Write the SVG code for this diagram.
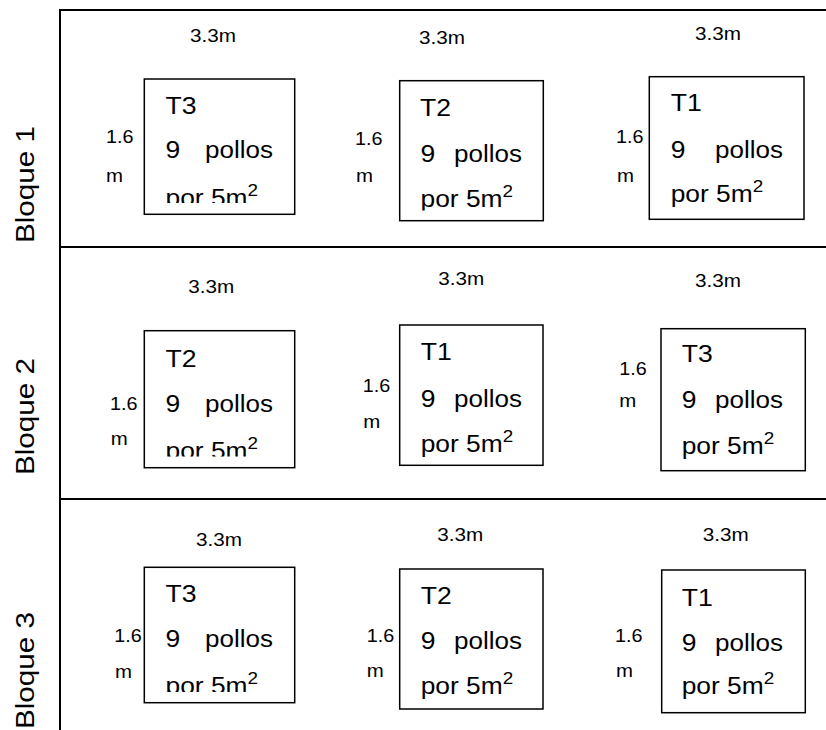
<svg xmlns="http://www.w3.org/2000/svg" width="826" height="730" viewBox="0 0 826 730">
  <style>
    text { font-family: "Liberation Sans", Arial, sans-serif; fill: #000; }
    .frame { stroke: #000; stroke-width: 2; fill: none; }
    .plot { stroke: #000; stroke-width: 1.5; fill: #fff; }
    .dim { font-size: 18px; }
    .lbl { font-size: 23px; }
    .sup { font-size: 16px; }
    .blk { font-size: 26px; }
  </style>
  <defs>
    <clipPath id="clip-b1t3"><rect x="140" y="75" width="160" height="128"/></clipPath>
    <clipPath id="clip-b1t2"><rect x="395" y="75" width="160" height="135.5"/></clipPath>
    <clipPath id="clip-b2t2"><rect x="140" y="325" width="160" height="131.5"/></clipPath>
    <clipPath id="clip-b3t3"><rect x="140" y="560" width="160" height="132"/></clipPath>
  </defs>
  <rect width="826" height="730" fill="#fff"/>

  <!-- field outline and block dividers -->
  <g id="frame">
    <path class="frame" d="M60,730 V10 H826 M60,247 H826 M60,499 H826"/>
  </g>

  <!-- block labels -->
  <g id="block-labels">
    <text class="blk" transform="translate(34,243) rotate(-90)" textLength="117" lengthAdjust="spacingAndGlyphs">Bloque 1</text>
    <text class="blk" transform="translate(34,475) rotate(-90)" textLength="117" lengthAdjust="spacingAndGlyphs">Bloque 2</text>
    <text class="blk" transform="translate(34,729) rotate(-90)" textLength="117" lengthAdjust="spacingAndGlyphs">Bloque 3</text>
  </g>

  <!-- Bloque 1 -->
  <g id="b1-t3">
    <rect class="plot" x="144.3" y="79" width="150.4" height="135.3"/>
    <text class="dim" x="190" y="42" textLength="46" lengthAdjust="spacingAndGlyphs">3.3m</text>
    <text class="dim" x="106" y="143" textLength="27.5" lengthAdjust="spacingAndGlyphs">1.6</text>
    <text class="dim" x="106" y="182" textLength="17" lengthAdjust="spacingAndGlyphs">m</text>
    <text class="lbl" x="165.5" y="114" textLength="31" lengthAdjust="spacingAndGlyphs">T3</text>
    <text class="lbl" x="165.5" y="158" textLength="14.7" lengthAdjust="spacingAndGlyphs">9</text>
    <text class="lbl" x="205" y="158" textLength="68" lengthAdjust="spacingAndGlyphs">pollos</text>
    <g clip-path="url(#clip-b1t3)">
      <text class="lbl" x="165.5" y="206" textLength="82" lengthAdjust="spacingAndGlyphs">por 5m</text>
      <text class="sup" x="247.5" y="196" textLength="10.5" lengthAdjust="spacingAndGlyphs">2</text>
    </g>
  </g>
  <g id="b1-t2">
    <rect class="plot" x="399.7" y="80.7" width="143.6" height="140"/>
    <text class="dim" x="419" y="44" textLength="46" lengthAdjust="spacingAndGlyphs">3.3m</text>
    <text class="dim" x="355" y="145" textLength="27.5" lengthAdjust="spacingAndGlyphs">1.6</text>
    <text class="dim" x="356" y="182" textLength="17" lengthAdjust="spacingAndGlyphs">m</text>
    <text class="lbl" x="420" y="116" textLength="31" lengthAdjust="spacingAndGlyphs">T2</text>
    <text class="lbl" x="420.5" y="162" textLength="14.7" lengthAdjust="spacingAndGlyphs">9</text>
    <text class="lbl" x="454" y="162" textLength="68" lengthAdjust="spacingAndGlyphs">pollos</text>
    <g clip-path="url(#clip-b1t2)">
      <text class="lbl" x="420.5" y="207.3" textLength="82" lengthAdjust="spacingAndGlyphs">por 5m</text>
      <text class="sup" x="502.5" y="197.3" textLength="10.5" lengthAdjust="spacingAndGlyphs">2</text>
    </g>
  </g>
  <g id="b1-t1">
    <rect class="plot" x="649.3" y="76.7" width="154.7" height="142.6"/>
    <text class="dim" x="695" y="39.5" textLength="46" lengthAdjust="spacingAndGlyphs">3.3m</text>
    <text class="dim" x="616" y="143.3" textLength="27.5" lengthAdjust="spacingAndGlyphs">1.6</text>
    <text class="dim" x="617" y="182" textLength="17" lengthAdjust="spacingAndGlyphs">m</text>
    <text class="lbl" x="670.7" y="110.7" textLength="31" lengthAdjust="spacingAndGlyphs">T1</text>
    <text class="lbl" x="670.7" y="157.7" textLength="14.7" lengthAdjust="spacingAndGlyphs">9</text>
    <text class="lbl" x="715" y="157.7" textLength="68" lengthAdjust="spacingAndGlyphs">pollos</text>
    <text class="lbl" x="670.7" y="201.7" textLength="82" lengthAdjust="spacingAndGlyphs">por 5m</text>
    <text class="sup" x="752.7" y="191.7" textLength="10.5" lengthAdjust="spacingAndGlyphs">2</text>
  </g>

  <!-- Bloque 2 -->
  <g id="b2-t2">
    <rect class="plot" x="144.3" y="330.7" width="150.4" height="137"/>
    <text class="dim" x="188.3" y="292.7" textLength="46" lengthAdjust="spacingAndGlyphs">3.3m</text>
    <text class="dim" x="110" y="410" textLength="27.5" lengthAdjust="spacingAndGlyphs">1.6</text>
    <text class="dim" x="110.7" y="445" textLength="17" lengthAdjust="spacingAndGlyphs">m</text>
    <text class="lbl" x="165.5" y="366.7" textLength="31" lengthAdjust="spacingAndGlyphs">T2</text>
    <text class="lbl" x="165.5" y="411.7" textLength="14.7" lengthAdjust="spacingAndGlyphs">9</text>
    <text class="lbl" x="205" y="411.7" textLength="68" lengthAdjust="spacingAndGlyphs">pollos</text>
    <g clip-path="url(#clip-b2t2)">
      <text class="lbl" x="165.5" y="459" textLength="82" lengthAdjust="spacingAndGlyphs">por 5m</text>
      <text class="sup" x="247.5" y="449" textLength="10.5" lengthAdjust="spacingAndGlyphs">2</text>
    </g>
  </g>
  <g id="b2-t1">
    <rect class="plot" x="399.7" y="325" width="143.3" height="140.3"/>
    <text class="dim" x="438.3" y="285" textLength="46" lengthAdjust="spacingAndGlyphs">3.3m</text>
    <text class="dim" x="362.7" y="391.7" textLength="27.5" lengthAdjust="spacingAndGlyphs">1.6</text>
    <text class="dim" x="363.3" y="428.3" textLength="17" lengthAdjust="spacingAndGlyphs">m</text>
    <text class="lbl" x="420.7" y="360" textLength="31" lengthAdjust="spacingAndGlyphs">T1</text>
    <text class="lbl" x="420.7" y="406.7" textLength="14.7" lengthAdjust="spacingAndGlyphs">9</text>
    <text class="lbl" x="454" y="406.7" textLength="68" lengthAdjust="spacingAndGlyphs">pollos</text>
    <text class="lbl" x="420.7" y="451.7" textLength="82" lengthAdjust="spacingAndGlyphs">por 5m</text>
    <text class="sup" x="502.7" y="441.7" textLength="10.5" lengthAdjust="spacingAndGlyphs">2</text>
  </g>
  <g id="b2-t3">
    <rect class="plot" x="661" y="328.7" width="144.3" height="142"/>
    <text class="dim" x="695" y="286.7" textLength="46" lengthAdjust="spacingAndGlyphs">3.3m</text>
    <text class="dim" x="619.3" y="375" textLength="27.5" lengthAdjust="spacingAndGlyphs">1.6</text>
    <text class="dim" x="619.3" y="406.7" textLength="17" lengthAdjust="spacingAndGlyphs">m</text>
    <text class="lbl" x="681.7" y="361.7" textLength="31" lengthAdjust="spacingAndGlyphs">T3</text>
    <text class="lbl" x="681.7" y="408.3" textLength="14.7" lengthAdjust="spacingAndGlyphs">9</text>
    <text class="lbl" x="715" y="408.3" textLength="68" lengthAdjust="spacingAndGlyphs">pollos</text>
    <text class="lbl" x="681.7" y="454" textLength="82" lengthAdjust="spacingAndGlyphs">por 5m</text>
    <text class="sup" x="763.7" y="444" textLength="10.5" lengthAdjust="spacingAndGlyphs">2</text>
  </g>

  <!-- Bloque 3 -->
  <g id="b3-t3">
    <rect class="plot" x="144.3" y="567.3" width="150.4" height="135.4"/>
    <text class="dim" x="196" y="546" textLength="46" lengthAdjust="spacingAndGlyphs">3.3m</text>
    <text class="dim" x="114.3" y="641.7" textLength="27.5" lengthAdjust="spacingAndGlyphs">1.6</text>
    <text class="dim" x="115" y="678.3" textLength="17" lengthAdjust="spacingAndGlyphs">m</text>
    <text class="lbl" x="165.5" y="601.7" textLength="31" lengthAdjust="spacingAndGlyphs">T3</text>
    <text class="lbl" x="165.5" y="646.7" textLength="14.7" lengthAdjust="spacingAndGlyphs">9</text>
    <text class="lbl" x="205" y="646.7" textLength="68" lengthAdjust="spacingAndGlyphs">pollos</text>
    <g clip-path="url(#clip-b3t3)">
      <text class="lbl" x="165.5" y="694" textLength="82" lengthAdjust="spacingAndGlyphs">por 5m</text>
      <text class="sup" x="247.5" y="684" textLength="10.5" lengthAdjust="spacingAndGlyphs">2</text>
    </g>
  </g>
  <g id="b3-t2">
    <rect class="plot" x="399.7" y="569" width="143.3" height="140"/>
    <text class="dim" x="437.3" y="540.7" textLength="46" lengthAdjust="spacingAndGlyphs">3.3m</text>
    <text class="dim" x="366.7" y="641.7" textLength="27.5" lengthAdjust="spacingAndGlyphs">1.6</text>
    <text class="dim" x="366.7" y="676.7" textLength="17" lengthAdjust="spacingAndGlyphs">m</text>
    <text class="lbl" x="420.7" y="604" textLength="31" lengthAdjust="spacingAndGlyphs">T2</text>
    <text class="lbl" x="420.7" y="649.3" textLength="14.7" lengthAdjust="spacingAndGlyphs">9</text>
    <text class="lbl" x="454" y="649.3" textLength="68" lengthAdjust="spacingAndGlyphs">pollos</text>
    <text class="lbl" x="420.7" y="694" textLength="82" lengthAdjust="spacingAndGlyphs">por 5m</text>
    <text class="sup" x="502.7" y="684" textLength="10.5" lengthAdjust="spacingAndGlyphs">2</text>
  </g>
  <g id="b3-t1">
    <rect class="plot" x="661.7" y="570" width="143.6" height="142.7"/>
    <text class="dim" x="702.7" y="540.7" textLength="46" lengthAdjust="spacingAndGlyphs">3.3m</text>
    <text class="dim" x="615" y="641.7" textLength="27.5" lengthAdjust="spacingAndGlyphs">1.6</text>
    <text class="dim" x="616" y="676.7" textLength="17" lengthAdjust="spacingAndGlyphs">m</text>
    <text class="lbl" x="681.7" y="606" textLength="31" lengthAdjust="spacingAndGlyphs">T1</text>
    <text class="lbl" x="681.7" y="651" textLength="14.7" lengthAdjust="spacingAndGlyphs">9</text>
    <text class="lbl" x="715" y="651" textLength="68" lengthAdjust="spacingAndGlyphs">pollos</text>
    <text class="lbl" x="681.7" y="694" textLength="82" lengthAdjust="spacingAndGlyphs">por 5m</text>
    <text class="sup" x="763.7" y="684" textLength="10.5" lengthAdjust="spacingAndGlyphs">2</text>
  </g>
</svg>
